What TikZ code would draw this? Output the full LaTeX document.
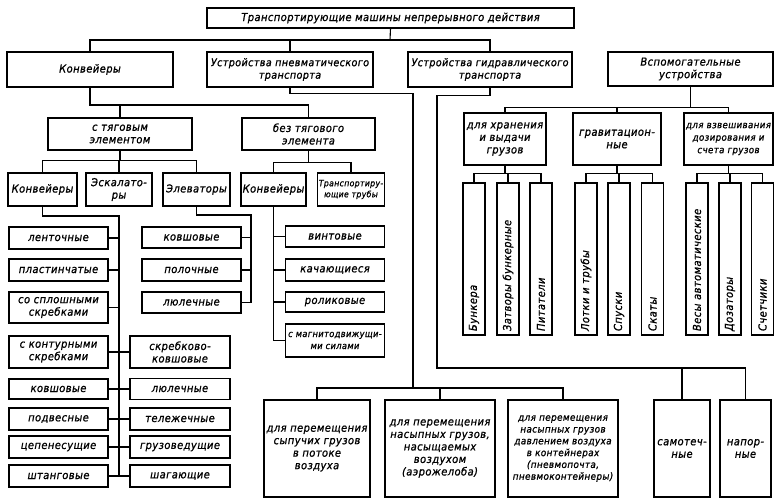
\documentclass[tikz,border=0pt]{standalone}
\usepackage{fontspec}
\setmainfont{DejaVu Sans}[FakeStretch=0.9, LetterSpace=4, FakeBold=1]
\usetikzlibrary{calc}

\begin{document}
\begin{tikzpicture}[x=1pt, y=-1pt, line width=1.1pt,
  box/.style={draw, align=center, inner sep=1pt, font=\itshape\fontsize{11}{12.5}\selectfont},
  lbox/.style={box, minimum width=99, minimum height=22},
  rbox/.style={box, minimum width=100, minimum height=22},
  sbox/.style={box, minimum height=33},
  vbox/.style={box, rotate=90, minimum width=152, minimum height=22, text width=144, align=left},
  bbox/.style={box, minimum height=97}]
\useasboundingbox (0,0) rectangle (780,501);
% top levels
\node[box, minimum width=367, minimum height=20] (title) at (390.5,18) {Транспортирующие машины непрерывного действия};
\node[box, minimum width=166, minimum height=35] (conv) at (90,69.5) {Конвейеры};
\node[box, minimum width=166, minimum height=35, font=\itshape\fontsize{10.6}{12.5}\selectfont] (pneu) at (290,69.5) {Устройства пневматического\\транспорта};
\node[box, minimum width=164, minimum height=35, font=\itshape\fontsize{10.6}{12.5}\selectfont] (hydr) at (490,69.5) {Устройства гидравлического\\транспорта};
\node[box, minimum width=165, minimum height=34] (aux) at (690.5,69) {Вспомогательные\\устройства};
\node[box, minimum width=144, minimum height=32] (tyag) at (120,134) {с тяговым\\элементом};
\node[box, minimum width=133, minimum height=32] (notyag) at (308.5,134) {без тягового\\элемента};
\node[box, minimum width=82, minimum height=52] (aux1) at (505,139) {для хранения\\и выдачи\\грузов};
\node[box, minimum width=88, minimum height=52] (aux2) at (617,139) {гравитацион-\\ные};
\node[box, minimum width=89, minimum height=52, font=\itshape\fontsize{9.6}{12.5}\selectfont] (aux3) at (728.5,139) {для взвешивания\\дозирования и\\счета грузов};
\node[sbox, minimum width=69] (conv2) at (42.5,189.5) {Конвейеры};
\node[sbox, minimum width=66] (escal) at (119,189.5) {Эскалато-\\ры};
\node[sbox, minimum width=67] (elev) at (196.5,189.5) {Элеваторы};
\node[sbox, minimum width=65] (conv3) at (273.5,189.5) {Конвейеры};
\node[sbox, minimum width=64, font=\itshape\fontsize{8.6}{11}\selectfont] (tubes) at (351,189.5) {Транспортиру-\\ющие трубы};
% conveyors with traction element
\node[lbox] (lent) at (58.5,238) {ленточные};
\node[lbox] (plast) at (58.5,270) {пластинчатые};
\node[lbox, minimum height=31] (splosh) at (58.5,307.5) {со сплошными\\скребками};
\node[lbox, minimum height=32] (kontur) at (58.5,352) {с контурными\\скребками};
\node[lbox, minimum height=20] (kovsh) at (58.5,389) {ковшовые};
\node[lbox] (podv) at (58.5,419) {подвесные};
\node[lbox] (tsep) at (58.5,447) {цепенесущие};
\node[lbox] (shtang) at (58.5,476) {штанговые};
\node[rbox, minimum height=32] (skrkov) at (180,352) {скребково-\\ковшовые};
\node[rbox, minimum height=21] (lyul) at (180,389) {люлечные};
\node[rbox] (telezh) at (180,419) {тележечные};
\node[rbox] (gruzov) at (180,447) {грузоведущие};
\node[rbox] (shag) at (180,476) {шагающие};
\node[lbox, minimum height=21] (elkovsh) at (191.5,237.5) {ковшовые};
\node[lbox] (polo) at (191.5,270) {полочные};
\node[lbox, minimum height=21] (ellyul) at (191.5,302.5) {люлечные};
% conveyors without traction element
\node[lbox, minimum height=21] (vint) at (335,236.5) {винтовые};
\node[lbox] (kach) at (335,270) {качающиеся};
\node[lbox, minimum height=20] (rolik) at (335,302) {роликовые};
\node[lbox, minimum height=33, font=\itshape\fontsize{9.2}{12}\selectfont] (magn) at (335,340.5) {с магнитодвижущи-\\ми силами};
% auxiliary devices
\node[vbox] (bunk) at (474,259) {Бункера};
\node[vbox] (zatv) at (508,259) {Затворы бункерные};
\node[vbox] (pit) at (541,259) {Питатели};
\node[vbox] (lotki) at (586,259) {Лотки и трубы};
\node[vbox] (spusk) at (619,259) {Спуски};
\node[vbox] (skat) at (652.5,259) {Скаты};
\node[vbox] (vesy) at (697,259) {Весы автоматические};
\node[vbox] (doz) at (730,259) {Дозаторы};
\node[vbox] (schet) at (762.5,259) {Счетчики};
% pneumatic and hydraulic
\node[bbox, minimum width=106] (pn1) at (317,448.5) {для перемещения\\сыпучих грузов\\в потоке\\воздуха};
\node[bbox, minimum width=110] (pn2) at (440,448.5) {для перемещения\\насыпных грузов,\\насыщаемых\\воздухом\\(аэрожелоба)};
\node[bbox, minimum width=110, font=\itshape\fontsize{9.8}{11.8}\selectfont] (pn3) at (563,448.5) {для перемещения\\насыпных грузов\\давлением воздуха\\в контейнерах\\(пневмопочта,\\пневмоконтейнеры)};
\node[bbox, minimum width=56] (samot) at (682,448.5) {самотеч-\\ные};
\node[bbox, minimum width=51] (napor) at (745.5,448.5) {напор-\\ные};

\coordinate (b1) at (390,40);
\coordinate (b2) at (90,105);
\coordinate (pt) at (413,388);
\coordinate (ht) at (437,368);
\coordinate (tr1) at (119,216);
\coordinate (tr2) at (251,215);
\draw (title.south) -- (b1);
\draw (conv.north) |- (b1) -| (hydr.north);
\draw (pneu.north) -- (pneu.north |- b1);
\draw (conv.south) |- (notyag.north |- b2) -- (notyag.north);
\draw (tyag.north) -- (tyag.north |- b2);
\draw (pneu.south) -- ++(0,6) -| (pt);
\draw (pn1.north) |- (pt) -| (pn3.north);
\draw (pn2.north) -- (pn2.north |- pt);
\draw (hydr.south) -- ++(0,8) -| (ht) -| (napor.north);
\draw (samot.north) -- (samot.north |- ht);
\draw (aux.south) -- ++(0,21) coordinate (ab);
\draw (aux1.north) |- (ab) -| (aux3.north);
\draw (aux2.north) -- (aux2.north |- ab);
\draw (aux1.south) -- ++(0,8) coordinate (a1);
\draw (bunk.east) |- (a1) -| (pit.east);
\draw (zatv.east) -- (zatv.east |- a1);
\draw (aux2.south) -- ++(0,8) coordinate (a2);
\draw (lotki.east) |- (a2) -| (skat.east);
\draw (spusk.east) -- (spusk.east |- a2);
\draw (aux3.south) -- ++(0,8) coordinate (a3);
\draw (vesy.east) |- (a3) -| (schet.east);
\draw (doz.east) -- (doz.east |- a3);
\draw (tyag.south) -- ++(0,10) coordinate (t1);
\draw (conv2.north) |- (t1) -| (elev.north);
\draw (escal.north) -- (escal.north |- t1);
\draw (notyag.south) -- ++(0,12) coordinate (t2);
\draw (conv3.north) |- (t2) -| (tubes.north);
\draw (conv2.south) |- (tr1) -- (tr1 |- shtang.east);
\foreach \n in {lent,plast,splosh,kontur,kovsh,podv,tsep,shtang}
  \draw (\n.east) -- (\n.east -| tr1);
\foreach \n in {skrkov,lyul,telezh,gruzov,shag}
  \draw (\n.west) -- (\n.west -| tr1);
\draw (elev.south) |- (tr2) -- (tr2 |- ellyul.east);
\foreach \n in {elkovsh,polo,ellyul}
  \draw (\n.east) -- (\n.east -| tr2);
\draw (conv3.south) -- (conv3.south |- magn.west);
\foreach \n in {vint,kach,rolik,magn}
  \draw (\n.west) -- (\n.west -| conv3.south);
\end{tikzpicture}
\end{document}
